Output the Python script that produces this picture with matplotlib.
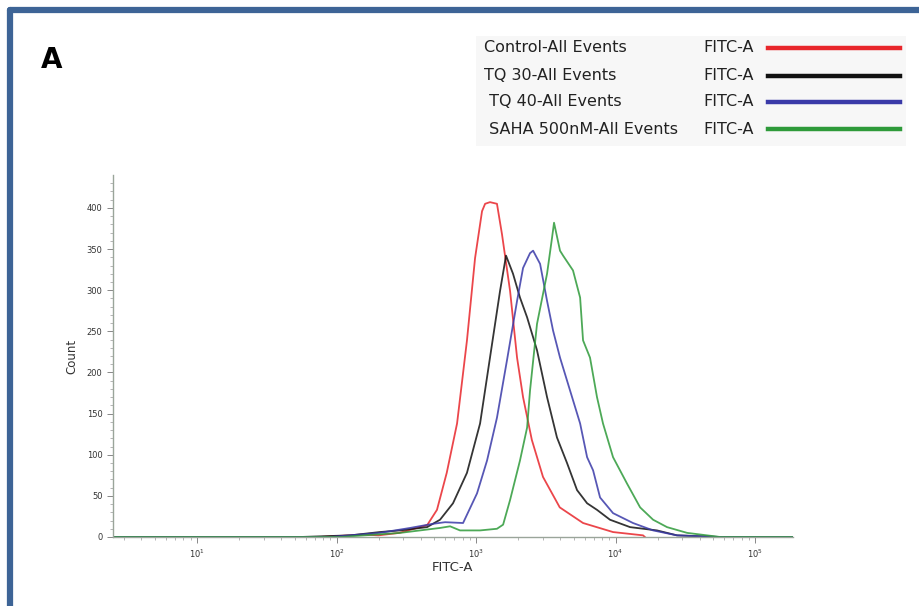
import matplotlib.pyplot as plt
from matplotlib.lines import Line2D
from matplotlib.patches import Rectangle
import numpy as np

# FITC-A histograms, x given as log10(intensity), y as event count
ctrl_logx = [0.40, 1.88, 2.20, 2.30, 2.45, 2.65, 2.72, 2.79, 2.864, 2.935, 2.993, 3.043,
             3.065, 3.10, 3.15, 3.186, 3.244, 3.294, 3.337, 3.40, 3.48, 3.60, 3.767, 3.982,
             4.197, 4.21]
ctrl_count = [0, 0, 3, 2, 5, 14.5, 33, 78, 138, 239, 339, 396,
              405, 407, 405, 368, 299, 218, 170, 118, 73, 36, 17, 6,
              2, 0]

tq30_logx = [0.40, 1.74, 2.10, 2.31, 2.455, 2.649, 2.742, 2.835, 2.935, 3.029, 3.10, 3.172,
             3.215, 3.265, 3.315, 3.366, 3.437, 3.509, 3.58, 3.652, 3.724, 3.796, 3.867,
             3.96, 4.104, 4.297, 4.44, 4.75, 5.30]
tq30_count = [0, 0, 2, 6, 8, 12, 21, 41, 78, 138, 218, 299,
              342, 320, 291, 267, 227, 170, 121, 90, 57, 41, 33,
              21, 12, 8, 2, 0, 0]

tq40_logx = [0.40, 1.95, 2.31, 2.527, 2.69, 2.778, 2.907, 3.007, 3.079, 3.15, 3.222, 3.294,
             3.337, 3.387, 3.409, 3.459, 3.509, 3.552, 3.602, 3.674, 3.746, 3.796, 3.839,
             3.889, 3.982, 4.125, 4.269, 4.44, 4.75, 5.30]
tq40_count = [0, 0, 5, 11, 16, 18, 17, 53, 93, 145, 215, 287,
              327, 345, 348, 332, 287, 251, 218, 178, 138, 97, 81,
              48, 29, 17, 8, 2, 0, 0]

saha_logx = [0.40, 2.03, 2.455, 2.742, 2.814, 2.885, 3.029, 3.15, 3.194, 3.244, 3.315, 3.366,
             3.387, 3.437, 3.509, 3.545, 3.559, 3.602, 3.624, 3.695, 3.746, 3.767, 3.817,
             3.867, 3.91, 3.982, 4.082, 4.176, 4.269, 4.369, 4.513, 4.75, 5.30]
saha_count = [0, 0, 5, 11, 13, 8, 8, 10, 15, 45, 93, 133,
              178, 259, 320, 364, 382, 348, 342, 324, 291, 239, 218,
              170, 138, 97, 65, 36, 21, 12, 5, 0, 0]

names = ["Control-All Events", "TQ 30-All Events", " TQ 40-All Events", " SAHA 500nM-All Events"]
colors = ["#e8262b", "#111111", "#3a3aa8", "#2e9a3a"]

fig = plt.figure(figsize=(9.2, 6.06), dpi=100)

# blue frame along top and left edge
frame = "#3d6496"
fig.add_artist(Line2D([10 / 920, 1.0], [1 - 10 / 606, 1 - 10 / 606], color=frame, lw=4.5,
                      solid_capstyle="round", transform=fig.transFigure))
fig.add_artist(Line2D([10 / 920, 10 / 920], [0.0, 1 - 10 / 606], color=frame, lw=4.5,
                      solid_capstyle="round", transform=fig.transFigure))

ax = fig.add_axes([113 / 920, 69 / 606, 680 / 920, 362 / 606])
series = [(ctrl_logx, ctrl_count), (tq30_logx, tq30_count),
          (tq40_logx, tq40_count), (saha_logx, saha_count)]
for (lx, cnt), c in zip(series, colors):
    ax.plot(10 ** np.array(lx), cnt, color=c, lw=1.3, alpha=0.85)

ax.set_xscale("log")
ax.set_xlim(2.5, 1.87e5)
ax.set_ylim(0, 440)
ax.set_yticks(range(0, 401, 50))
ax.set_yticks(range(0, 440, 10), minor=True)
for s in ["top", "right"]:
    ax.spines[s].set_visible(False)
for s in ["left", "bottom"]:
    ax.spines[s].set_color("#9aa59a")
    ax.spines[s].set_linewidth(1.0)
ax.tick_params(axis="both", which="major", labelsize=6, colors="#888888",
               labelcolor="#333333", length=4, width=0.7)
ax.tick_params(axis="both", which="minor", colors="#aaaaaa", length=2, width=0.6)
ax.set_xlabel("FITC-A", fontsize=9.5, color="#333333", labelpad=1)
ax.set_ylabel("Count", fontsize=8.5, color="#333333", labelpad=6)

fig.text(41 / 920, 1 - 60 / 606, "A", fontsize=20, fontweight="bold",
         va="center", ha="left")

# legend block
fig.add_artist(Rectangle((476 / 920, 1 - 146 / 606), 430 / 920, 110 / 606,
                         transform=fig.transFigure, facecolor="#f7f7f7",
                         edgecolor="none", zorder=0))
rows_y = [48, 76, 102, 129]
for name, c, yy in zip(names, colors, rows_y):
    yf = 1 - yy / 606
    fig.text(484 / 920, yf, name, fontsize=11.5, va="center", ha="left", color="#222222")
    fig.text(703 / 920, yf, "FITC-A", fontsize=11.5, va="center", ha="left", color="#222222")
    fig.add_artist(Line2D([768 / 920, 900 / 920], [yf, yf], color=c, lw=3.2,
                          transform=fig.transFigure))

fig.savefig("out.png", dpi=100)
